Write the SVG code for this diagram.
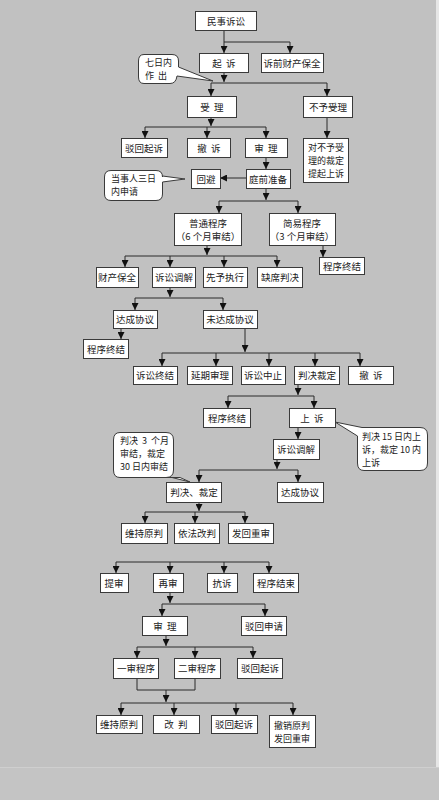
<svg xmlns="http://www.w3.org/2000/svg" width="439" height="800" viewBox="0 0 439 800">
<style>
.node rect{fill:#fff;stroke:#3a3a3a;stroke-width:1}
text{font-family:"Noto Sans CJK SC","Noto Sans",sans-serif;font-size:9.5px;fill:#222;white-space:pre}
.m{font-size:9px}
.c{text-anchor:middle;dominant-baseline:central}
.conn line,.conn polyline{stroke:#2a2a2a;stroke-width:1;fill:none}
.call path{fill:#fff;stroke:#3a3a3a;stroke-width:1}
</style>
<defs>
<marker id="ah" viewBox="0 0 10 10" refX="10" refY="5" markerWidth="7" markerHeight="7" markerUnits="userSpaceOnUse" orient="auto"><path d="M0,0 L10,5 L0,10 z" fill="#111"/></marker>
</defs>
<rect x="0" y="0" width="439" height="800" fill="#c1c1c1"/>
<rect x="436" y="0" width="3" height="767" fill="#e6e6e6"/>
<rect x="0" y="767" width="439" height="33" fill="#c4c4c4"/>
<line x1="0" y1="767.5" x2="439" y2="767.5" stroke="#cfcfcf"/>

<g class="conn">
<line x1="224" y1="30" x2="224" y2="53" marker-end="url(#ah)"/>
<polyline points="224,42 290,42 290,53" marker-end="url(#ah)"/>
<line x1="224" y1="72" x2="224" y2="82" marker-end="url(#ah)"/>
<line x1="211" y1="83" x2="327" y2="83"/>
<line x1="211" y1="83" x2="211" y2="96" marker-end="url(#ah)"/>
<line x1="327" y1="83" x2="327" y2="96" marker-end="url(#ah)"/>
<line x1="211" y1="117" x2="211" y2="126" marker-end="url(#ah)"/>
<line x1="145" y1="127" x2="266" y2="127"/>
<line x1="145" y1="127" x2="145" y2="138" marker-end="url(#ah)"/>
<line x1="207" y1="127" x2="207" y2="138" marker-end="url(#ah)"/>
<line x1="266" y1="127" x2="266" y2="138" marker-end="url(#ah)"/>
<line x1="327" y1="117" x2="327" y2="138" marker-end="url(#ah)"/>
<line x1="266" y1="157" x2="266" y2="169" marker-end="url(#ah)"/>
<line x1="246" y1="178" x2="220" y2="178" marker-end="url(#ah)"/>
<line x1="266" y1="188" x2="266" y2="200" marker-end="url(#ah)"/>
<line x1="219" y1="201" x2="298" y2="201"/>
<line x1="219" y1="201" x2="219" y2="213" marker-end="url(#ah)"/>
<line x1="298" y1="201" x2="298" y2="213" marker-end="url(#ah)"/>
<line x1="207" y1="245" x2="207" y2="255" marker-end="url(#ah)"/>
<line x1="125" y1="256" x2="277" y2="256"/>
<line x1="125" y1="256" x2="125" y2="267" marker-end="url(#ah)"/>
<line x1="170" y1="256" x2="170" y2="267" marker-end="url(#ah)"/>
<line x1="224" y1="256" x2="224" y2="267" marker-end="url(#ah)"/>
<line x1="277" y1="256" x2="277" y2="267" marker-end="url(#ah)"/>
<line x1="323" y1="245" x2="323" y2="257" marker-end="url(#ah)"/>
<line x1="170" y1="287" x2="170" y2="297" marker-end="url(#ah)"/>
<line x1="135" y1="298" x2="223" y2="298"/>
<line x1="135" y1="298" x2="135" y2="310" marker-end="url(#ah)"/>
<line x1="223" y1="298" x2="223" y2="310" marker-end="url(#ah)"/>
<line x1="121" y1="328" x2="121" y2="339" marker-end="url(#ah)"/>
<line x1="245" y1="328" x2="245" y2="352" marker-end="url(#ah)"/>
<line x1="162" y1="353" x2="360" y2="353"/>
<line x1="162" y1="353" x2="162" y2="366" marker-end="url(#ah)"/>
<line x1="216" y1="353" x2="216" y2="366" marker-end="url(#ah)"/>
<line x1="269" y1="353" x2="269" y2="366" marker-end="url(#ah)"/>
<line x1="315" y1="353" x2="315" y2="366" marker-end="url(#ah)"/>
<line x1="360" y1="353" x2="360" y2="366" marker-end="url(#ah)"/>
<line x1="298" y1="384" x2="298" y2="395" marker-end="url(#ah)"/>
<line x1="228" y1="396" x2="314" y2="396"/>
<line x1="228" y1="396" x2="228" y2="408" marker-end="url(#ah)"/>
<line x1="314" y1="396" x2="314" y2="408" marker-end="url(#ah)"/>
<line x1="298" y1="427" x2="298" y2="439" marker-end="url(#ah)"/>
<line x1="277" y1="459" x2="277" y2="469" marker-end="url(#ah)"/>
<line x1="199" y1="470" x2="298" y2="470"/>
<line x1="199" y1="470" x2="199" y2="482" marker-end="url(#ah)"/>
<line x1="298" y1="470" x2="298" y2="482" marker-end="url(#ah)"/>
<line x1="199" y1="502" x2="199" y2="511" marker-end="url(#ah)"/>
<line x1="145" y1="512" x2="245" y2="512"/>
<line x1="145" y1="512" x2="145" y2="523" marker-end="url(#ah)"/>
<line x1="195" y1="512" x2="195" y2="523" marker-end="url(#ah)"/>
<line x1="245" y1="512" x2="245" y2="523" marker-end="url(#ah)"/>
<line x1="116" y1="562" x2="269" y2="562"/>
<line x1="116" y1="562" x2="116" y2="573" marker-end="url(#ah)"/>
<line x1="170" y1="562" x2="170" y2="573" marker-end="url(#ah)"/>
<line x1="224" y1="562" x2="224" y2="573" marker-end="url(#ah)"/>
<line x1="269" y1="562" x2="269" y2="573" marker-end="url(#ah)"/>
<line x1="170" y1="592" x2="170" y2="603" marker-end="url(#ah)"/>
<line x1="162" y1="604" x2="265" y2="604"/>
<line x1="162" y1="604" x2="162" y2="616" marker-end="url(#ah)"/>
<line x1="265" y1="604" x2="265" y2="616" marker-end="url(#ah)"/>
<line x1="166" y1="635" x2="166" y2="646" marker-end="url(#ah)"/>
<line x1="137" y1="647" x2="253" y2="647"/>
<line x1="137" y1="647" x2="137" y2="658" marker-end="url(#ah)"/>
<line x1="195" y1="647" x2="195" y2="658" marker-end="url(#ah)"/>
<line x1="253" y1="647" x2="253" y2="658" marker-end="url(#ah)"/>
<polyline points="137,678 137,690 195,690 195,678"/>
<line x1="166" y1="690" x2="166" y2="702" marker-end="url(#ah)"/>
<line x1="121" y1="703" x2="293" y2="703"/>
<line x1="121" y1="703" x2="121" y2="715" marker-end="url(#ah)"/>
<line x1="174" y1="703" x2="174" y2="715" marker-end="url(#ah)"/>
<line x1="236" y1="703" x2="236" y2="715" marker-end="url(#ah)"/>
<line x1="293" y1="703" x2="293" y2="715" marker-end="url(#ah)"/>
</g>

<g id="n_minshi" class="node"><rect x="195.5" y="11.5" width="61" height="19"/><text class="c" x="226" y="21">民事诉讼</text></g>
<g id="n_qisu" class="node"><rect x="199.5" y="53.5" width="49" height="19"/><text class="c" x="224" y="63">起  诉</text></g>
<g id="n_suqian" class="node"><rect x="261.5" y="53.5" width="62" height="19"/><text class="c" x="292" y="63">诉前财产保全</text></g>
<g id="n_shouli" class="node"><rect x="187.5" y="96.5" width="49" height="21"/><text class="c" x="212" y="107">受  理</text></g>
<g id="n_buyu" class="node"><rect x="303.5" y="96.5" width="49" height="21"/><text class="c" x="328" y="107">不予受理</text></g>
<g id="n_bohui1" class="node"><rect x="121.5" y="138.5" width="46" height="19"/><text class="c" x="144" y="148">驳回起诉</text></g>
<g id="n_chesu1" class="node"><rect x="187.5" y="138.5" width="43" height="19"/><text class="c" x="209" y="148">撤  诉</text></g>
<g id="n_shenli1" class="node"><rect x="245.5" y="138.5" width="42" height="19"/><text class="c" x="266" y="148">审  理</text></g>
<g id="n_dui" class="node"><rect x="303.5" y="138.5" width="45" height="44"/><text class="c m" x="326" y="147">对不予受</text><text class="c m" x="326" y="160">理的裁定</text><text class="c m" x="326" y="173">提起上诉</text></g>
<g id="n_tingqian" class="node"><rect x="246.5" y="169.5" width="44" height="19"/><text class="c" x="268" y="179">庭前准备</text></g>
<g id="n_huibi" class="node"><rect x="191.5" y="169.5" width="29" height="19"/><text class="c" x="206" y="179">回避</text></g>
<g id="n_putong" class="node"><rect x="174.5" y="213.5" width="67" height="32"/><text class="c" x="208" y="223">普通程序</text><text class="c" x="208" y="236">（6 个月审结）</text></g>
<g id="n_jianyi" class="node"><rect x="269.5" y="213.5" width="66" height="32"/><text class="c" x="302" y="223">简易程序</text><text class="c" x="302" y="236">（3 个月审结）</text></g>
<g id="n_zhongjie1" class="node"><rect x="319.5" y="257.5" width="45" height="17"/><text class="c" x="342" y="266">程序终结</text></g>
<g id="n_caichan" class="node"><rect x="96.5" y="267.5" width="42" height="20"/><text class="c" x="117" y="277">财产保全</text></g>
<g id="n_tiaojie1" class="node"><rect x="152.5" y="267.5" width="43" height="20"/><text class="c" x="174" y="277">诉讼调解</text></g>
<g id="n_xianyu" class="node"><rect x="203.5" y="267.5" width="44" height="20"/><text class="c" x="225" y="277">先予执行</text></g>
<g id="n_quexi" class="node"><rect x="257.5" y="267.5" width="45" height="20"/><text class="c" x="280" y="277">缺席判决</text></g>
<g id="n_dacheng1" class="node"><rect x="113.5" y="310.5" width="44" height="18"/><text class="c" x="135" y="319">达成协议</text></g>
<g id="n_weidacheng" class="node"><rect x="203.5" y="310.5" width="54" height="18"/><text class="c" x="230" y="319">未达成协议</text></g>
<g id="n_zhongjie2" class="node"><rect x="83.5" y="339.5" width="45" height="19"/><text class="c" x="106" y="349">程序终结</text></g>
<g id="n_susongzhongjie" class="node"><rect x="133.5" y="366.5" width="44" height="18"/><text class="c" x="155" y="375">诉讼终结</text></g>
<g id="n_yanqi" class="node"><rect x="187.5" y="366.5" width="45" height="18"/><text class="c" x="210" y="375">延期审理</text></g>
<g id="n_zhongzhi" class="node"><rect x="241.5" y="366.5" width="44" height="18"/><text class="c" x="263" y="375">诉讼中止</text></g>
<g id="n_panjue" class="node"><rect x="294.5" y="366.5" width="45" height="18"/><text class="c" x="317" y="375">判决裁定</text></g>
<g id="n_chesu2" class="node"><rect x="348.5" y="366.5" width="45" height="18"/><text class="c" x="371" y="375">撤  诉</text></g>
<g id="n_zhongjie3" class="node"><rect x="203.5" y="408.5" width="47" height="19"/><text class="c" x="227" y="418">程序终结</text></g>
<g id="n_shangsu" class="node"><rect x="289.5" y="408.5" width="46" height="19"/><text class="c" x="312" y="418">上  诉</text></g>
<g id="n_tiaojie2" class="node"><rect x="273.5" y="439.5" width="46" height="20"/><text class="c" x="296" y="449">诉讼调解</text></g>
<g id="n_panjuecaiding" class="node"><rect x="166.5" y="482.5" width="55" height="20"/><text class="c" x="194" y="492">判决、裁定</text></g>
<g id="n_dacheng2" class="node"><rect x="277.5" y="482.5" width="46" height="20"/><text class="c" x="300" y="492">达成协议</text></g>
<g id="n_weichi1" class="node"><rect x="121.5" y="523.5" width="46" height="20"/><text class="c" x="144" y="533">维持原判</text></g>
<g id="n_yifa" class="node"><rect x="174.5" y="523.5" width="45" height="20"/><text class="c" x="197" y="533">依法改判</text></g>
<g id="n_fahui" class="node"><rect x="228.5" y="523.5" width="45" height="20"/><text class="c" x="251" y="533">发回重审</text></g>
<g id="n_tishen" class="node"><rect x="100.5" y="573.5" width="28" height="19"/><text class="c" x="114" y="583">提审</text></g>
<g id="n_zaishen" class="node"><rect x="153.5" y="573.5" width="30" height="19"/><text class="c" x="168" y="583">再审</text></g>
<g id="n_kangsu" class="node"><rect x="207.5" y="573.5" width="30" height="19"/><text class="c" x="222" y="583">抗诉</text></g>
<g id="n_jieshu" class="node"><rect x="253.5" y="573.5" width="45" height="19"/><text class="c" x="276" y="583">程序结束</text></g>
<g id="n_shenli2" class="node"><rect x="142.5" y="616.5" width="45" height="19"/><text class="c" x="165" y="626">审  理</text></g>
<g id="n_bohuishenqing" class="node"><rect x="241.5" y="616.5" width="45" height="19"/><text class="c" x="264" y="626">驳回申请</text></g>
<g id="n_yishen" class="node"><rect x="113.5" y="658.5" width="45" height="20"/><text class="c" x="136" y="668">一审程序</text></g>
<g id="n_ershen" class="node"><rect x="174.5" y="658.5" width="46" height="20"/><text class="c" x="197" y="668">二审程序</text></g>
<g id="n_bohui2" class="node"><rect x="237.5" y="658.5" width="45" height="20"/><text class="c" x="260" y="668">驳回起诉</text></g>
<g id="n_weichi2" class="node"><rect x="96.5" y="715.5" width="46" height="18"/><text class="c" x="119" y="724">维持原判</text></g>
<g id="n_gaipan" class="node"><rect x="153.5" y="715.5" width="46" height="18"/><text class="c" x="176" y="724">改  判</text></g>
<g id="n_bohui3" class="node"><rect x="211.5" y="715.5" width="46" height="18"/><text class="c" x="234" y="724">驳回起诉</text></g>
<g id="n_chexiao" class="node"><rect x="269.5" y="715.5" width="46" height="32"/><text class="c m" x="292" y="725">撤销原判</text><text class="c m" x="292" y="738">发回重审</text></g>

<g id="call_qiri" class="call"><path d="M144,54.5 H172 Q178.5,54.5 178.5,61 V67 L213,81 L177,76 Q176,83.5 170,83.5 H144 Q138.5,83.5 138.5,77 V61 Q138.5,54.5 144,54.5 Z"/><text class="m" x="145" y="66">七日内</text><text class="m" x="145" y="79">作  出</text></g>
<g id="call_dangshi" class="call"><path d="M111,170.5 H156 Q162.5,170.5 162.5,177 V176 L185,179 L162.5,182 V194 Q162.5,200.5 156,200.5 H111 Q104.5,200.5 104.5,194 V177 Q104.5,170.5 111,170.5 Z"/><text class="m" x="111" y="182">当事人三日</text><text class="m" x="111" y="195">内申请</text></g>
<g id="call_panjue3" class="call"><path d="M120,432.5 H166 Q173.5,432.5 173.5,440 V470 Q173.5,477.5 166,477.5 H180 L190,482 L172,477.5 H120 Q113.5,477.5 113.5,470 V440 Q113.5,432.5 120,432.5 Z"/><text class="m" x="120" y="444">判决  3  个月</text><text class="m" x="120" y="457">审结，裁定</text><text class="m" x="120" y="470">30 日内审结</text></g>
<g id="call_panjue15" class="call"><path d="M335,422 L362,427.5 H420 Q427.5,427.5 427.5,435 V463 Q427.5,470.5 420,470.5 H364 Q357.5,470.5 357.5,463 V436 Z"/><text class="m" x="362" y="440">判决 15 日内上</text><text class="m" x="362" y="453">诉，裁定 10 内</text><text class="m" x="362" y="466">上诉</text></g>
</svg>
